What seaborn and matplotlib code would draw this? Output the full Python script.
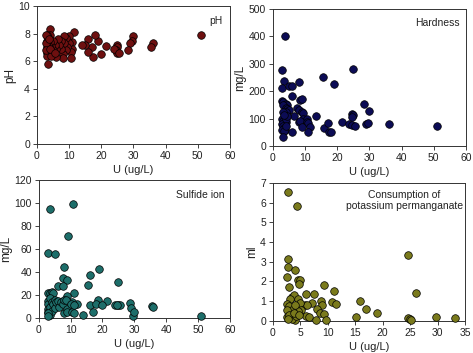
import matplotlib
matplotlib.use("Agg")
import matplotlib.pyplot as plt
import seaborn as sns
import pandas as pd

# ---- data ----
ph_u = [51, 36, 35.5, 30, 29.5, 29, 28.3, 25, 24.8, 24.5, 25, 24, 25.5, 21.5, 20, 19, 18, 17.5, 17, 16, 16, 15, 14,
        11.5, 11, 11, 10.5, 10.5, 10, 10, 9.5, 9, 9, 8.5, 8.5, 8, 8, 7.5, 7.5, 7, 6.5, 6, 6, 5.5, 5, 5, 4.5, 4.2, 4,
        4, 4, 3.8, 3.5, 3.5, 3.5, 3.3, 3.2, 3, 3, 3, 3, 2.8, 2.8, 2.8, 4.5, 3.8, 4.2, 5.5]
ph_v = [7.9, 7.3, 7.0, 7.8, 7.5, 7.3, 6.8, 7.2, 7.0, 6.8, 6.6, 6.9, 6.6, 7.1, 6.5, 7.5, 7.9, 6.3, 7.0, 7.6, 6.7, 7.2, 7.2,
        8.1, 7.4, 6.9, 6.7, 6.2, 7.8, 7.3, 7.0, 7.7, 6.8, 7.8, 7.3, 6.5, 6.2, 7.5, 6.9, 7.2, 7.6, 6.3, 6.9, 7.2, 6.8, 7.5, 7.1, 8.3, 7.9,
        7.4, 6.7, 7.0, 7.7, 7.2, 6.5, 5.8, 7.9, 7.5, 7.0, 6.6, 6.4, 7.9, 7.3, 6.8, 6.4, 7.6, 6.9, 6.6]

hard_u = [3.7, 2.8, 3.3, 2.7, 5, 6, 8, 15.5, 19, 25, 6, 8.5, 9, 28.3, 30,
          2.8, 3.2, 4, 4.5, 3, 4, 4.5, 5, 4, 3, 7.5, 8, 9, 9.5, 13.5, 6.5, 9.5, 10.5, 24.5, 25, 24.5,
          2.8, 3, 3.5, 4, 2.8, 3, 3.3, 3.8, 2.8, 3.5, 3, 4, 4.2, 8, 8.5, 10.5, 11, 9, 11.5, 11, 6, 16, 17,
          17.5, 18, 21.5, 23.5, 24.5, 25.5, 29, 29.5, 36, 51, 4.5, 3.5]
hard_v = [402, 277, 238, 213, 218, 220, 235, 253, 228, 282, 183, 168, 170, 155, 127,
          163, 160, 155, 150, 148, 140, 135, 130, 125, 125, 140, 132, 125, 122, 108, 110, 100, 98, 118, 112, 105,
          100, 92, 85, 88, 80, 72, 65, 60, 58, 55, 35, 100, 75, 88, 90, 88, 85, 68, 68, 52, 52, 67, 85,
          52, 52, 87, 80, 77, 75, 80, 85, 80, 72, 110, 115]

sulf_u = [3.5, 10.7, 9.3, 2.8, 5, 8, 19, 16, 7.5, 8.8, 25, 15.5, 6, 7.5,
          2.8, 3.5, 4, 4.5, 11, 9, 18.5, 21.5, 28.5, 12, 10.5, 16, 18, 20, 24, 25, 25.5, 24.5, 29, 35.5, 36,
          3, 3, 3, 3, 3.5, 3.5, 3.5, 4, 4, 4.5, 5, 5, 5.5, 6, 6.5, 7, 7.5, 8, 8, 8.5, 9, 9, 10, 10.5, 11, 11,
          14, 17, 29.5, 30, 51, 2.8, 2.9]
sulf_v = [95, 99.5, 71.5, 56.5, 56, 44, 43, 37.5, 34.5, 33, 31.5, 28.5, 27.5, 27.5,
          22, 22, 22.5, 21.5, 21.5, 19, 15.5, 14.5, 13.5, 12.5, 14, 11.5, 12.5, 11, 11, 11, 11, 11.5, 9, 10.5, 9.5,
          15, 12, 8, 5, 17, 10, 3, 14, 6, 12, 16, 9, 14, 15, 10, 14, 12, 16, 4, 16, 8, 5, 12, 5, 4, 11,
          2.5, 5, 2, 5, 1.5, 4, 2]

kmn_u = [2.7, 4.3, 2.8, 2.7, 4, 2.5, 3, 4.5, 4.9, 4.8, 9.3, 11.2, 24.6, 26,
         6, 7.4, 3.5, 3.8, 3.2, 4.5, 8.8, 10.7, 11.5, 15.9, 7.2, 9, 5.8, 6.3, 5, 2.6, 3, 17, 19, 8.1, 8.5, 9.4,
         5.2, 4.5, 3.5, 2.5, 15.2, 24.6, 25, 25.2, 29.8, 33.2, 6.1, 6.6, 7.9, 9.6, 4, 3.5, 2.6, 3, 2.7, 4.2, 3.8,
         4.1, 4.7]
kmn_v = [6.55, 5.85, 3.15, 2.75, 2.6, 2.2, 1.72, 2.05, 2.05, 1.85, 1.82, 1.52, 3.33, 1.4,
         1.38, 1.35, 1.2, 1.3, 1.1, 1.1, 1.0, 0.95, 0.85, 1.0, 0.9, 0.8, 0.8, 0.8, 0.9, 0.85, 0.75, 0.62, 0.4, 0.58, 0.4, 0.35,
         0.55, 0.5, 0.55, 0.55, 0.22, 0.15, 0.1, 0.02, 0.22, 0.17, 0.25, 0.2, 0.05, 0.03, 0.05, 0.1, 0.2, 0.3, 0.1, 0.25, 0.4,
         0.8, 0.3]

x_label = "U (ug/L)"

sns.set_theme(style="white")
plt.rcParams['font.family'] = ['Liberation Sans', 'DejaVu Sans']

fig = plt.figure(figsize=(4.73, 3.53), dpi=100)

panels = [
    dict(u=ph_u, v=ph_v, color="#6e1010", pos=[0.078, 0.592, 0.408, 0.391], ylab="pH", title="pH",
         xlim=(0, 60), xt=range(0, 61, 10), ylim=(0, 10), yt=range(0, 11, 2), tpos=(0.96, 0.93), ha="right"),
    dict(u=hard_u, v=hard_v, color="#0c0c55", pos=[0.577, 0.586, 0.408, 0.389], ylab="mg/L", title="Hardness",
         xlim=(0, 60), xt=range(0, 61, 10), ylim=(0, 500), yt=range(0, 501, 100), tpos=(0.97, 0.93), ha="right"),
    dict(u=sulf_u, v=sulf_v, color="#1d6e6a", pos=[0.082, 0.099, 0.404, 0.391], ylab="mg/L", title="Sulfide ion",
         xlim=(0, 60), xt=range(0, 61, 10), ylim=(0, 120), yt=range(0, 121, 20), tpos=(0.97, 0.93), ha="right"),
    dict(u=kmn_u, v=kmn_v, color="#7a7a1c", pos=[0.577, 0.091, 0.406, 0.391], ylab="ml",
         title="Consumption of\npotassium permanganate",
         xlim=(0, 35), xt=range(0, 36, 5), ylim=(0, 7), yt=range(0, 8, 1), tpos=(0.685, 0.95), ha="center"),
]

for p in panels:
    ax = fig.add_axes(p["pos"])
    df = pd.DataFrame({"u": p["u"], "v": p["v"]})
    sns.scatterplot(data=df, x="u", y="v", ax=ax, color=p["color"], s=30,
                    edgecolor="black", linewidth=0.5, zorder=3, clip_on=False)
    ax.set_xlim(*p["xlim"])
    ax.set_ylim(*p["ylim"])
    ax.set_xticks(list(p["xt"]))
    ax.set_yticks(list(p["yt"]))
    ax.set_xlabel(x_label, fontsize=8, color="#222222", labelpad=3)
    ax.set_ylabel(p["ylab"], fontsize=8.5, color="#222222", labelpad=1.5)
    ax.tick_params(axis="both", labelsize=7.5, direction="out", length=3, width=0.6,
                   colors="#222222", pad=2, bottom=True, left=True)
    for s in ax.spines.values():
        s.set_color("#333333")
        s.set_linewidth(0.7)
    ax.text(p["tpos"][0], p["tpos"][1], p["title"], transform=ax.transAxes, ha=p["ha"],
            va="top", fontsize=7.5, color="#222222", linespacing=1.1)
    ax.grid(False)

fig.savefig("out.png", dpi=100)
